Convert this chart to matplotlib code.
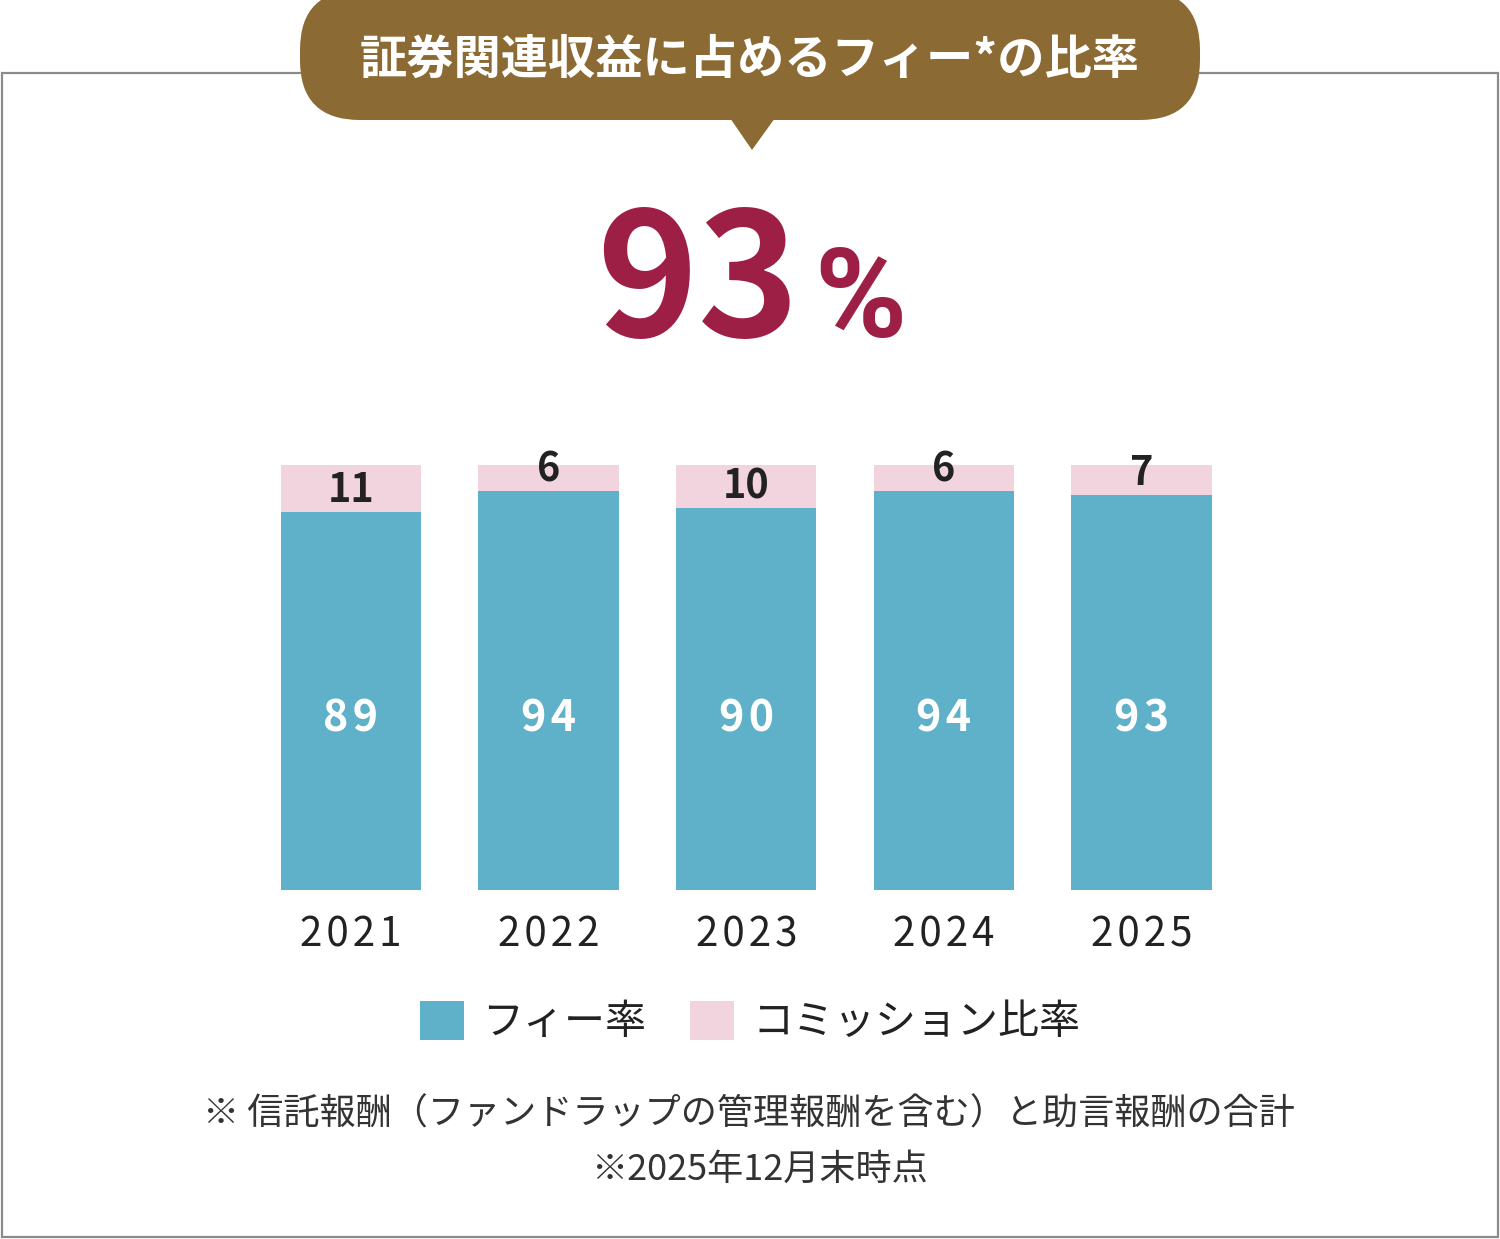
import matplotlib.pyplot as plt
from matplotlib.patches import FancyBboxPatch, Polygon, Rectangle, Patch

plt.rcParams['font.family'] = ['Noto Sans CJK JP', 'DejaVu Sans']

# data
years = ['2021', '2022', '2023', '2024', '2025']
fee = [89, 94, 90, 94, 93]
commission = [11, 6, 10, 6, 7]
title = '証券関連収益に占めるフィー*の比率'
headline = '93'
legend_labels = ['フィー率', 'コミッション比率']
notes = ['※ 信託報酬（ファンドラップの管理報酬を含む）と助言報酬の合計',
         '※2025年12月末時点']

FEE_COLOR = '#5EB1C8'
COM_COLOR = '#F1D4DE'
BROWN = '#8C6A33'
CRIMSON = '#9E1F45'
DARK = '#222222'


def spaced(s, sep='\u200a'):
    # rough letter spacing for the number labels
    return sep.join(s)


W, H = 1500, 1239
fig = plt.figure(figsize=(W / 100, H / 100), dpi=100)

# background layer in pixel coordinates
bg = fig.add_axes([0, 0, 1, 1])
bg.set_xlim(0, W)
bg.set_ylim(H, 0)
bg.axis('off')

bg.add_patch(Rectangle((2, 73), W - 4, H - 75, fill=False, edgecolor='#8a8a8a', linewidth=1.6))
bg.add_patch(FancyBboxPatch((300, -10), 900, 130, boxstyle='round,pad=0,rounding_size=60',
                            facecolor=BROWN, edgecolor='none', zorder=3))
bg.add_patch(Polygon([(730, 118), (775, 118), (752, 150)], closed=True,
                     facecolor=BROWN, edgecolor='none', zorder=3))
bg.text(750, 60, title, color='white', fontsize=34, fontweight='bold',
        ha='center', va='center', zorder=4)

bg.text(698, 337, headline, color=CRIMSON, fontsize=124, fontweight='bold',
        ha='center', va='baseline')
bg.text(814, 337, '%', color=CRIMSON, fontsize=90, fontweight='bold',
        family=['Roboto', 'DejaVu Sans'], ha='left', va='baseline')

bg.text(749, 1115, notes[0], color='#333333', fontsize=26, ha='center', va='center')
bg.text(759, 1170, notes[1], color='#333333', fontsize=26, ha='center', va='center')

# bar chart
spacing = (1141.5 - 351) / 4
left = 351 - spacing / 2
ax = fig.add_axes([left / W, (H - 890) / H, 5 * spacing / W, 425 / H])
ax.patch.set_alpha(0)
x = range(len(years))
ax.bar(x, fee, width=0.71, color=FEE_COLOR)
ax.bar(x, commission, width=0.71, bottom=fee, color=COM_COLOR)
ax.set_xlim(-0.5, 4.5)
ax.set_ylim(0, 100)
ax.axis('off')

for i in x:
    ax.text(i, 37.2, spaced(f'{fee[i]}'), color='white', fontsize=31,
            fontweight='bold', ha='center', va='baseline')
    ax.text(i, fee[i] + 2.2, f'{commission[i]}', color=DARK, fontsize=28.5,
            fontweight='bold', ha='center', va='baseline', clip_on=False)
    ax.text(i, -13.2, spaced(years[i]), color=DARK, fontsize=29, ha='center',
            va='baseline', clip_on=False)

handles = [Patch(facecolor=FEE_COLOR), Patch(facecolor=COM_COLOR)]
fig.legend(handles, legend_labels, loc='center', bbox_to_anchor=(750 / W, 1 - 1022 / H),
           ncol=2, frameon=False, fontsize=29.5, handlelength=1.08, handleheight=1.08,
           handletextpad=0.43, columnspacing=1.08, labelcolor=DARK)

fig.savefig('out.png', dpi=100)
